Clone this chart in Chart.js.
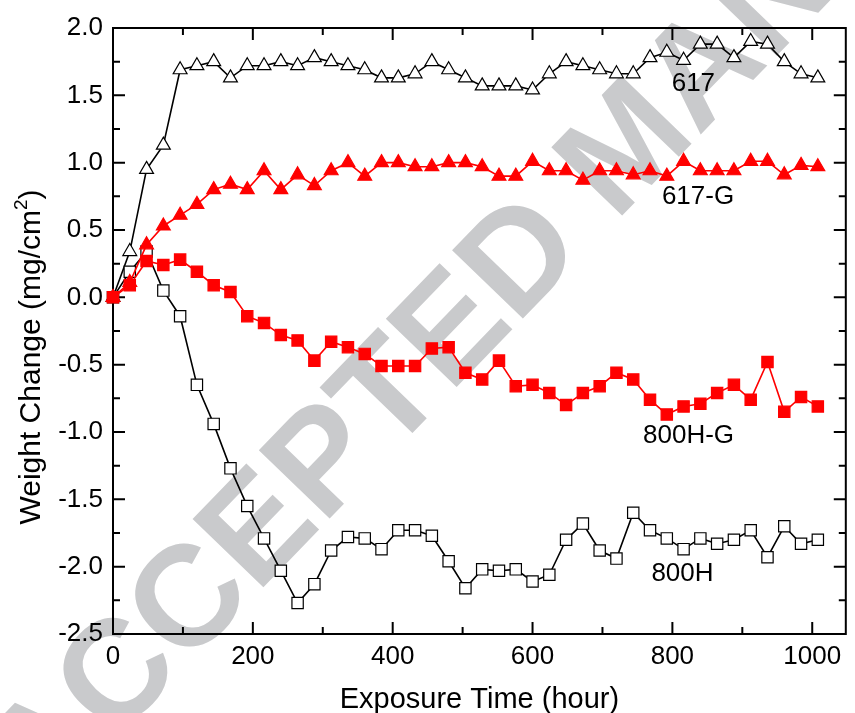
<!DOCTYPE html>
<html>
<head>
<meta charset="utf-8">
<script src="https://cdn.jsdelivr.net/npm/chart.js@4.4.1/dist/chart.umd.min.js"></script>
<style>
  html, body { margin: 0; padding: 0; background: #fff; }
  canvas { display: block; }
</style>
</head>
<body>
<canvas id="c" width="855" height="713"></canvas>
<script>
// Exposure time (hours)
const hours = [0, 24, 48, 72, 96, 120, 144, 168, 192, 216, 240, 264, 288, 312, 336, 360, 384, 408, 432, 456, 480, 504,
               528, 552, 576, 600, 624, 648, 672, 696, 720, 744, 768, 792, 816, 840, 864, 888, 912, 936, 960, 984, 1008];

// Weight change (mg/cm2) per alloy
const w617 = [0, 0.34, 0.95, 1.13, 1.69, 1.72, 1.75, 1.63, 1.72, 1.72, 1.75, 1.72, 1.78, 1.75, 1.72, 1.69, 1.63, 1.63, 1.66, 1.75, 1.69, 1.63,
              1.57, 1.57, 1.57, 1.54, 1.66, 1.75, 1.72, 1.69, 1.66, 1.66, 1.78, 1.82, 1.76, 1.88, 1.88, 1.78, 1.90, 1.88, 1.75, 1.66, 1.63];
const w617G = [0, 0.11, 0.39, 0.53, 0.61, 0.69, 0.80, 0.84, 0.80, 0.94, 0.80, 0.91, 0.83, 0.94, 1.00, 0.90, 1.00, 1.00, 0.97, 0.97, 1.00, 1.00,
               0.97, 0.90, 0.90, 1.01, 0.94, 0.94, 0.87, 0.94, 0.94, 0.91, 0.94, 0.90, 1.01, 0.94, 0.94, 0.94, 1.01, 1.01, 0.91, 0.98, 0.97];
const w800HG = [0, 0.09, 0.27, 0.24, 0.28, 0.19, 0.09, 0.04, -0.14, -0.19, -0.28, -0.32, -0.47, -0.33, -0.37, -0.42, -0.51, -0.51, -0.51, -0.38, -0.37, -0.56,
                -0.61, -0.47, -0.66, -0.65, -0.71, -0.80, -0.71, -0.66, -0.56, -0.61, -0.76, -0.87, -0.81, -0.79, -0.71, -0.65, -0.76, -0.48, -0.85, -0.74, -0.81];
const w800H = [0, 0.19, 0.34, 0.05, -0.14, -0.65, -0.94, -1.27, -1.55, -1.79, -2.03, -2.27, -2.13, -1.88, -1.78, -1.79, -1.87, -1.73, -1.73, -1.77, -1.96, -2.16,
               -2.02, -2.03, -2.02, -2.11, -2.06, -1.80, -1.68, -1.88, -1.94, -1.60, -1.73, -1.79, -1.87, -1.79, -1.83, -1.80, -1.73, -1.93, -1.70, -1.83, -1.80];

// Axis ticks
const xTicks = [0, 200, 400, 600, 800, 1000];
const yTicks = [-2.5, -2.0, -1.5, -1.0, -0.5, 0.0, 0.5, 1.0, 1.5, 2.0];

// Series names written beside the curves, with their anchor (hour, mg/cm2)
const seriesNames = ['617', '617-G', '800H-G', '800H'];
const nameHours = [799, 785, 758, 770];
const nameValues = [1.53, 0.69, -1.08, -2.11];

const FONT = "'Liberation Sans', Arial, Helvetica, sans-serif";

const pts = arr => hours.map((h, i) => ({ x: h, y: arr[i] }));

const decor = {
  id: 'decor',
  beforeDraw(chart) {
    // diagonal grey stamp behind the plot
    const ctx = chart.ctx;
    ctx.save();
    ctx.translate(41.5, 817);
    ctx.rotate(-46 * Math.PI / 180);
    ctx.font = `bold 143px ${FONT}`;
    ctx.fillStyle = '#c9cacc';
    ctx.textBaseline = 'alphabetic';
    ctx.textAlign = 'left';
    ctx.fillText('ACCEPTED MANUSCRIPT', 0, 0);
    ctx.restore();
  },
  beforeDatasetsDraw(chart) {
    // closed frame with inward major/minor ticks on all four sides
    const ctx = chart.ctx, a = chart.chartArea;
    const xs = chart.scales.x, ys = chart.scales.y;
    ctx.save();
    ctx.strokeStyle = '#000';
    ctx.lineWidth = 2;
    ctx.strokeRect(a.left, a.top, a.right - a.left, a.bottom - a.top);
    const major = 12, minor = 7;
    const vTick = (px, len) => {
      ctx.moveTo(px, a.bottom); ctx.lineTo(px, a.bottom - len);
      ctx.moveTo(px, a.top); ctx.lineTo(px, a.top + len);
    };
    const hTick = (py, len) => {
      ctx.moveTo(a.left, py); ctx.lineTo(a.left + len, py);
      ctx.moveTo(a.right, py); ctx.lineTo(a.right - len, py);
    };
    ctx.beginPath();
    xTicks.forEach((v, i) => {
      vTick(xs.getPixelForValue(v), major);
      if (i < xTicks.length - 1) vTick(xs.getPixelForValue((v + xTicks[i + 1]) / 2), minor);
    });
    yTicks.forEach((v, i) => {
      hTick(ys.getPixelForValue(v), major);
      if (i < yTicks.length - 1) hTick(ys.getPixelForValue((v + yTicks[i + 1]) / 2), minor);
    });
    ctx.stroke();
    ctx.restore();
  },
  afterDraw(chart) {
    const ctx = chart.ctx, a = chart.chartArea;
    const xs = chart.scales.x, ys = chart.scales.y;
    ctx.save();
    ctx.fillStyle = '#000';
    ctx.textBaseline = 'alphabetic';

    // x axis title
    ctx.font = `29px ${FONT}`;
    ctx.textAlign = 'center';
    ctx.fillText('Exposure Time (hour)', (a.left + a.right) / 2, 708);

    // y axis title with superscript
    ctx.save();
    ctx.translate(40, 357);
    ctx.rotate(-Math.PI / 2);
    ctx.textAlign = 'left';
    const main = 'Weight Change (mg/cm', sup = '2', tail = ')';
    const big = `30px ${FONT}`, small = `19px ${FONT}`;
    ctx.font = big; const wMain = ctx.measureText(main).width, wTail = ctx.measureText(tail).width;
    ctx.font = small; const wSup = ctx.measureText(sup).width;
    let x0 = -(wMain + wSup + wTail) / 2;
    ctx.font = big; ctx.fillText(main, x0, 0); x0 += wMain;
    ctx.font = small; ctx.fillText(sup, x0, -13); x0 += wSup;
    ctx.font = big; ctx.fillText(tail, x0, 0);
    ctx.restore();

    // series names
    ctx.font = `26px ${FONT}`;
    ctx.textAlign = 'left';
    seriesNames.forEach((s, i) => {
      ctx.fillText(s, xs.getPixelForValue(nameHours[i]), ys.getPixelForValue(nameValues[i]));
    });
    ctx.restore();
  }
};

const common = { borderWidth: 1.6, pointRadius: 8, pointHoverRadius: 8, pointBorderWidth: 1.2, tension: 0, clip: false };

new Chart(document.getElementById('c'), {
  type: 'line',
  data: {
    datasets: [
      Object.assign({ label: '800H-G', data: pts(w800HG), borderColor: '#ff0000', pointStyle: 'rect',
        pointBackgroundColor: '#ff0000', pointBorderColor: '#ff0000', order: 1 }, common),
      Object.assign({ label: '617-G', data: pts(w617G), borderColor: '#ff0000', pointStyle: 'triangle',
        pointBackgroundColor: '#ff0000', pointBorderColor: '#ff0000', order: 2 }, common),
      Object.assign({ label: '800H', data: pts(w800H), borderColor: '#000', pointStyle: 'rect',
        pointBackgroundColor: '#fff', pointBorderColor: '#000', order: 3 }, common),
      Object.assign({ label: '617', data: pts(w617), borderColor: '#000', pointStyle: 'triangle',
        pointBackgroundColor: '#fff', pointBorderColor: '#000', order: 4 }, common)
    ]
  },
  options: {
    responsive: false,
    animation: false,
    events: [],
    layout: { padding: { top: 28, right: 2, left: 0, bottom: 0 } },
    plugins: { legend: { display: false }, tooltip: { enabled: false } },
    scales: {
      x: {
        type: 'linear', min: 0, max: 1048,
        grid: { display: false, drawTicks: false },
        border: { display: false },
        ticks: { color: '#000', font: { family: FONT, size: 26 }, padding: 7, maxRotation: 0, autoSkip: false,
          callback: v => String(v) },
        afterBuildTicks: s => { s.ticks = xTicks.map(v => ({ value: v })); },
        afterFit: s => { s.height = 79; }
      },
      y: {
        type: 'linear', min: -2.5, max: 2.0,
        grid: { display: false, drawTicks: false },
        border: { display: false },
        ticks: { color: '#000', font: { family: FONT, size: 26 }, padding: 10, autoSkip: false,
          callback: v => Number(v).toFixed(1) },
        afterBuildTicks: s => { s.ticks = yTicks.map(v => ({ value: v })); },
        afterFit: s => { s.width = 113; }
      }
    }
  },
  plugins: [decor]
});
</script>
</body>
</html>
